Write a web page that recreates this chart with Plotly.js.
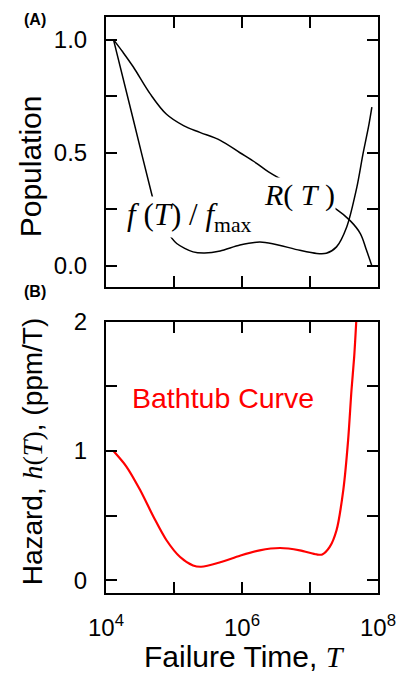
<!DOCTYPE html>
<html>
<head>
<meta charset="utf-8">
<script src="https://cdn.plot.ly/plotly-3.0.1.min.js"></script>
<style>
html,body{margin:0;padding:0;background:#fff;}
#chart{width:400px;height:673px;}
</style>
</head>
<body>
<div id="chart"></div>
<script>
// ---- Panel A: reliability R(T) (log10 of failure time, population)
const R_logT = [4.11, 4.25, 4.40, 4.65, 4.89, 5.14, 5.38, 5.68, 5.97, 6.22, 6.39, 6.85, 7.39, 7.59, 7.74, 7.83, 7.91];
const R_val  = [1.00, 0.944, 0.88, 0.76, 0.67, 0.62, 0.59, 0.555, 0.50, 0.452, 0.415, 0.337, 0.25, 0.20, 0.143, 0.07, 0.0];

// ---- Panel A: normalised failure density f(T)/fmax
const f_logT = [4.11, 4.40, 4.67, 4.76, 4.89, 5.04, 5.28, 5.45, 5.68, 5.97, 6.26, 6.45, 6.85, 7.10, 7.24, 7.39, 7.54, 7.69, 7.78, 7.86, 7.91];
const f_val  = [1.00, 0.648, 0.32, 0.224, 0.155, 0.099, 0.062, 0.057, 0.066, 0.092, 0.105, 0.098, 0.069, 0.055, 0.056, 0.084, 0.172, 0.349, 0.496, 0.614, 0.702];

// ---- Panel B: hazard h(T), ppm/T
const h_logT = [4.11, 4.30, 4.50, 4.70, 4.89, 5.09, 5.28, 5.40, 5.68, 5.97, 6.26, 6.56, 6.85, 7.10, 7.18, 7.29, 7.39, 7.49, 7.56, 7.61, 7.65, 7.68];
const h_val  = [1.00, 0.88, 0.70, 0.49, 0.31, 0.18, 0.115, 0.105, 0.14, 0.19, 0.232, 0.25, 0.232, 0.20, 0.20, 0.258, 0.387, 0.70, 1.08, 1.47, 1.73, 2.0];

// ---- ticks
const xTickVals = [1e4, 1e6, 1e8];
const xTickText = ['10<sup>4</sup>', '10<sup>6</sup>', '10<sup>8</sup>'];
const yA_TickVals = [0, 0.5, 1.0];
const yA_TickText = ['0.0', '0.5', '1.0'];
const yB_TickVals = [0, 1, 2];
const yB_TickText = ['0', '1', '2'];

const toT = a => a.map(v => Math.pow(10, v));

const SANS = 'Liberation Sans, Arial, sans-serif';
const SERIF = 'Liberation Serif, Times New Roman, serif';

const traces = [
  {x: toT(R_logT), y: R_val, xaxis: 'x', yaxis: 'y', mode: 'lines',
   line: {color: '#000', width: 1.5, shape: 'spline', smoothing: 1}, hoverinfo: 'skip'},
  {x: toT(f_logT), y: f_val, xaxis: 'x', yaxis: 'y', mode: 'lines',
   line: {color: '#000', width: 1.5, shape: 'spline', smoothing: 0.8}, hoverinfo: 'skip'},
  {x: toT(h_logT), y: h_val, xaxis: 'x2', yaxis: 'y2', mode: 'lines',
   line: {color: '#ff0000', width: 2.2, shape: 'spline', smoothing: 0.8}, hoverinfo: 'skip'}
];

const minorCommon = {ticks: 'inside', ticklen: 11, tickwidth: 2, tickcolor: '#000', showgrid: false};

const axCommon = {
  showline: true, linewidth: 2, linecolor: '#000', mirror: 'allticks',
  ticks: 'inside', ticklen: 11, tickwidth: 2, tickcolor: '#000',
  showgrid: false, zeroline: false,
  tickfont: {family: SANS, size: 24, color: '#000'}
};

const layout = {
  width: 400, height: 673,
  margin: {l: 106, r: 22, t: 17, b: 80},
  paper_bgcolor: '#fff', plot_bgcolor: '#fff',
  showlegend: false,
  xaxis: Object.assign({}, axCommon, {type: 'log', range: [4, 8], domain: [0, 1],
    anchor: 'y', tickvals: xTickVals, ticktext: xTickText, showticklabels: false,
    minor: Object.assign({dtick: 1}, minorCommon)}),
  yaxis: Object.assign({}, axCommon, {range: [-0.094, 1.1], domain: [0.531, 1],
    anchor: 'x', tickvals: yA_TickVals, ticktext: yA_TickText, ticklabelstandoff: 12,
    minor: Object.assign({dtick: 0.25}, minorCommon)}),
  xaxis2: Object.assign({}, axCommon, {type: 'log', range: [4, 8], domain: [0, 1],
    anchor: 'y2', tickvals: xTickVals, ticktext: xTickText, ticklabelstandoff: 12,
    minor: Object.assign({dtick: 1}, minorCommon)}),
  yaxis2: Object.assign({}, axCommon, {range: [-0.098, 2.0], domain: [0, 0.471],
    anchor: 'x2', tickvals: yB_TickVals, ticktext: yB_TickText, ticklabelstandoff: 12,
    minor: Object.assign({dtick: 0.5}, minorCommon)}),
  annotations: [
    {xref: 'paper', yref: 'paper', x: -0.261, y: 0.995, text: '<b>(A)</b>', showarrow: false,
     font: {family: SANS, size: 16, color: '#000'}, xanchor: 'center', yanchor: 'middle'},
    {xref: 'paper', yref: 'paper', x: -0.261, y: 0.524, text: '<b>(B)</b>', showarrow: false,
     font: {family: SANS, size: 16, color: '#000'}, xanchor: 'center', yanchor: 'middle'},
    {xref: 'paper', yref: 'paper', x: -0.279, y: 0.741, text: 'Population', textangle: -90, showarrow: false,
     font: {family: SANS, size: 30, color: '#000'}, xanchor: 'center', yanchor: 'middle'},
    {xref: 'paper', yref: 'paper', x: -0.272, y: 0.246,
     text: 'Hazard, <span style="font-family:Liberation Serif"><i>h</i>(<i>T</i>)</span>, (ppm/T)',
     textangle: -90, showarrow: false,
     font: {family: SANS, size: 28, color: '#000'}, xanchor: 'center', yanchor: 'middle'},
    {xref: 'paper', yref: 'paper', x: 0.511, y: -0.111,
     text: 'Failure Time, <span style="font-family:Liberation Serif"><i>T</i></span>', showarrow: false,
     font: {family: SANS, size: 30, color: '#000'}, xanchor: 'center', yanchor: 'middle'},
    {xref: 'x2', yref: 'y2', x: 5.72, y: 1.41, text: 'Bathtub Curve', showarrow: false,
     font: {family: SANS, size: 28.5, color: '#ff0000'}, xanchor: 'center', yanchor: 'middle'},
    {xref: 'x', yref: 'y', x: 6.84, y: 0.312, text: '<i>R</i>( <i>T</i> )', showarrow: false,
     font: {family: SERIF, size: 30, color: '#000'}, xanchor: 'center', yanchor: 'middle',
     bgcolor: '#fff', borderpad: 0},
    {xref: 'x', yref: 'y', x: 5.23, y: 0.215, text: '<i>f</i> (<i>T</i>) / <i>f</i><sub>max</sub>', showarrow: false,
     font: {family: SERIF, size: 31, color: '#000'}, xanchor: 'center', yanchor: 'middle',
     bgcolor: '#fff', borderpad: 0}
  ]
};

Plotly.newPlot('chart', traces, layout, {displayModeBar: false, staticPlot: true});
</script>
</body>
</html>
